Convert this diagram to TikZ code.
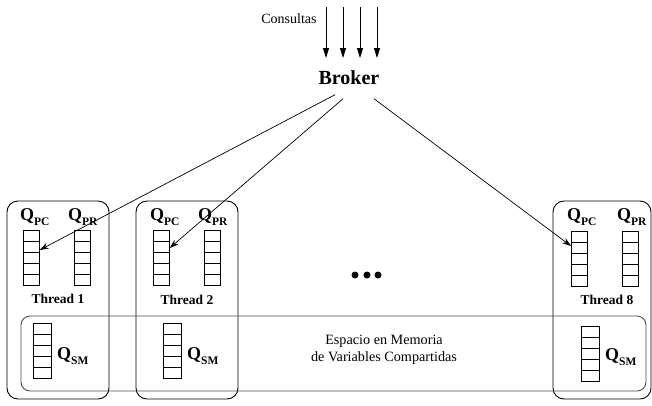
\documentclass[tikz,border=0pt]{standalone}
\usepackage{fontspec}
\setmainfont{Liberation Serif}
\usetikzlibrary{arrows.meta,calc}

% a queue of five cells, drawn as a named node with its cell dividers
% #1 name, #2 x, #3 y (top left), #4 width
\newcommand\drawqueue[4]{%
  \node[queuebox, minimum width=#4pt] (#1) at (#2,#3) {};
  \foreach \k in {1,...,4}
    \draw[cell] ($(#1.north west)!\k/5!(#1.south west)$) -- ($(#1.north east)!\k/5!(#1.south east)$);
}
% Q with a lowered bold subscript
\newcommand\qname[1]{Q\raisebox{-5pt}{\fontsize{11.5}{11.5}\selectfont #1}}

\begin{document}
\begin{tikzpicture}[x=1pt,y=-1pt,
  threadbox/.style={draw=black, line width=0.9pt, rounded corners=11pt},
  sharedbox/.style={draw=black!70, line width=0.9pt, rounded corners=9pt},
  queuebox/.style={draw, line width=0.7pt, minimum height=55pt, inner sep=0pt, anchor=north west},
  cell/.style={line width=0.7pt},
  qlabel/.style={font=\fontsize{18}{18}\selectfont\bfseries, inner sep=0pt, anchor=base west},
  tlabel/.style={font=\fontsize{13.5}{14}\selectfont\bfseries, inner sep=0pt},
  link/.style={line width=0.7pt, -{Stealth[length=9pt,width=6pt]}},
  incoming/.style={line width=0.8pt, -{Triangle[length=10pt,width=6pt]}},
  dot/.style={circle, fill=black, minimum size=7pt, inner sep=0pt},
]
\useasboundingbox (0,0) rectangle (652,405);

% thread frames and the shared memory frame
\draw[threadbox] (7,201) rectangle (109,399);
\draw[threadbox] (136,201) rectangle (238,399);
\draw[threadbox] (553,201) rectangle (651,399);
\draw[sharedbox] (21,316) rectangle (646,391);

% incoming queries
\node[font=\fontsize{14}{14}\selectfont, inner sep=0pt] (consultas) at (289,19) {Consultas};
\foreach \i/\x in {1/326,2/343,3/360,4/377}{
  \coordinate (qin\i) at (\x,7);
  \coordinate (qout\i) at (\x,58);
  \draw[incoming] (qin\i) -- (qout\i);
}
\node[font=\fontsize{20}{20}\selectfont\bfseries, inner sep=0pt] (broker) at (349,77.5) {Broker};

% thread 1
\drawqueue{pc1}{23}{230}{16}
\drawqueue{pr1}{74}{230}{16}
\drawqueue{sm1}{33}{323}{18}
\node[qlabel] (lpc1) at (20,220) {\qname{PC}};
\node[qlabel] (lpr1) at (68,220) {\qname{PR}};
\node[qlabel] (lsm1) at (57,359) {\qname{SM}};
\node[tlabel] (t1) at (58,299) {Thread 1};

% thread 2
\drawqueue{pc2}{153}{230}{16}
\drawqueue{pr2}{204}{230}{16}
\drawqueue{sm2}{163}{323}{18}
\node[qlabel] (lpc2) at (150,220) {\qname{PC}};
\node[qlabel] (lpr2) at (198,220) {\qname{PR}};
\node[qlabel] (lsm2) at (187,359) {\qname{SM}};
\node[tlabel] (t2) at (187,300) {Thread 2};

% thread 8
\drawqueue{pc8}{571}{231}{16}
\drawqueue{pr8}{622}{231}{16}
\drawqueue{sm8}{581}{326}{18}
\node[qlabel] (lpc8) at (567,220) {\qname{PC}};
\node[qlabel] (lpr8) at (617,220) {\qname{PR}};
\node[qlabel] (lsm8) at (605,360) {\qname{SM}};
\node[tlabel] (t8) at (607,300) {Thread 8};

% ellipsis between threads
\node[dot] (d1) at (355,275) {};
\node[dot] (d2) at (367,275) {};
\node[dot] (d3) at (378,275) {};

\node[font=\fontsize{14.2}{16.5}\selectfont, align=center, inner sep=0pt] (shared) at (384,350)
  {Espacio en Memoria\\de Variables Compartidas};

% broker dispatching to the PC queues
\draw[link] ($(broker.south)+(-14,10)$) -- ($(pc1.north east)+(0,20)$);
\draw[link] ($(broker.south)+(-6,14)$) -- ($(pc2.north east)+(0,18)$);
\draw[link] ($(broker.south)+(25,14)$) -- ($(pc8.north west)+(0,15)$);
\end{tikzpicture}
\end{document}
